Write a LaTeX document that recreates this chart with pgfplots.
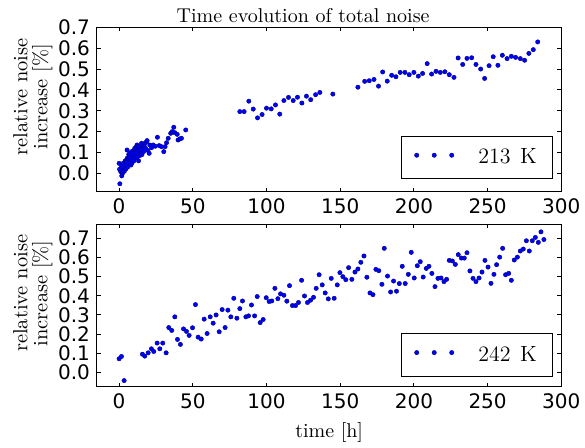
\documentclass[border=0pt]{standalone}
\usepackage{fontspec}
\usepackage{pgfplots}
\usepackage{pgfplotstable}
\pgfplotsset{compat=1.18}
\newfontfamily\tickfont{DejaVu Sans}

\pgfplotstableread{
x y
0.0 0.048
0.5 -0.05
0.3 0.02
1.1 0.008
1.8 -0.012
1.5 0.03
2.0 0.04
2.3 0.0
2.7 0.016
3.0 0.05
3.2 0.032
3.5 0.01
3.9 0.043
4.2 0.06
4.5 0.056
4.6 0.021
5.0 0.056
5.4 0.112
5.4 0.072
5.8 0.03
6.2 0.072
6.5 0.09
6.8 0.048
7.0 0.075
7.2 0.096
7.7 0.064
8.0 0.04
8.4 0.104
8.8 0.05
9.1 0.08
9.5 0.096
9.8 0.07
10.0 0.06
10.3 0.11
10.6 0.12
11.1 0.09
11.5 0.1
11.7 0.128
12.2 0.075
12.2 0.136
12.8 0.13
12.9 0.11
13.2 0.06
13.6 0.125
14.0 0.085
14.0 0.096
14.5 0.1
15.0 0.115
15.2 0.144
15.5 0.09
15.8 0.125
16.3 0.136
16.8 0.105
17.0 0.13
17.5 0.144
18.0 0.12
18.6 0.152
19.0 0.157
19.5 0.11
20.4 0.096
20.8 0.136
22.0 0.123
23.1 0.136
24.5 0.13
26.0 0.173
27.2 0.133
28.7 0.128
30.3 0.104
31.2 0.128
32.2 0.147
33.3 0.168
35.0 0.192
36.0 0.2
37.1 0.221
37.8 0.195
39.4 0.187
40.0 0.16
41.2 0.165
42.3 0.168
45.2 0.208
81.9 0.296
84.8 0.296
88.0 0.346
91.0 0.308
93.9 0.266
97.0 0.282
100.0 0.3125
103.2 0.309
106.1 0.328
109.0 0.284
111.8 0.349
114.9 0.364
118.1 0.349
121.0 0.365
124.0 0.337
127.1 0.37
130.0 0.353
133.3 0.377
136.2 0.388
145.0 0.38
162.0 0.413
166.6 0.441
169.7 0.444
172.9 0.45
176.0 0.418
178.8 0.486
181.9 0.442
184.9 0.47
187.8 0.463
190.7 0.484
193.9 0.484
196.8 0.473
200.0 0.484
203.0 0.466
205.9 0.479
209.0 0.526
212.0 0.476
215.0 0.489
217.9 0.484
221.0 0.487
224.0 0.473
227.2 0.46
230.0 0.553
233.1 0.522
236.0 0.551
239.2 0.554
242.1 0.522
245.3 0.5
248.0 0.455
251.0 0.516
253.8 0.559
257.0 0.518
260.0 0.566
263.2 0.55
266.1 0.561
269.0 0.556
272.2 0.55
275.1 0.542
278.0 0.575
281.0 0.593
284.0 0.63
}\dataA

\pgfplotstableread{
x y
0.0 0.071
1.6 0.083
3.4 -0.043
15.8 0.095
17.4 0.085
19.7 0.102
21.9 0.123
23.5 0.109
25.8 0.153
27.6 0.123
29.6 0.153
31.9 0.102
33.7 0.234
35.7 0.219
37.8 0.29
39.6 0.172
41.6 0.146
43.7 0.227
45.7 0.214
47.5 0.193
49.8 0.233
51.8 0.354
53.6 0.184
55.7 0.174
57.7 0.278
59.7 0.203
61.8 0.29
63.8 0.257
65.8 0.3
67.9 0.212
69.9 0.328
71.9 0.234
73.8 0.325
75.8 0.29
77.8 0.387
79.9 0.283
81.9 0.333
83.7 0.373
86.0 0.29
87.8 0.295
89.8 0.352
91.9 0.295
93.7 0.396
95.7 0.26
97.7 0.276
99.8 0.39
101.8 0.37
103.6 0.373
105.7 0.439
107.7 0.385
109.5 0.41
111.8 0.403
113.8 0.372
115.6 0.453
117.6 0.349
119.7 0.349
121.7 0.365
123.8 0.481
125.8 0.399
127.8 0.365
129.9 0.377
131.9 0.392
133.7 0.439
135.7 0.51
137.8 0.457
139.8 0.415
141.9 0.384
143.9 0.491
145.9 0.387
148.0 0.457
149.8 0.521
151.8 0.5
153.8 0.484
155.7 0.547
157.9 0.486
160.0 0.524
162.0 0.54
164.0 0.575
166.1 0.608
168.1 0.497
170.2 0.415
172.2 0.406
174.2 0.538
176.2 0.531
178.3 0.46
179.9 0.648
182.1 0.503
184.2 0.42
186.2 0.477
188.2 0.424
190.1 0.464
192.1 0.554
194.1 0.464
196.2 0.512
198.2 0.627
200.2 0.493
202.3 0.557
204.3 0.578
206.3 0.498
208.4 0.543
210.2 0.554
212.2 0.517
214.3 0.448
216.3 0.491
218.4 0.493
220.4 0.474
222.2 0.486
224.0 0.585
226.1 0.582
228.1 0.564
230.1 0.615
232.2 0.597
234.2 0.597
236.0 0.625
238.0 0.53
240.1 0.491
242.1 0.474
244.2 0.493
246.2 0.524
248.2 0.585
250.3 0.55
252.3 0.465
254.3 0.512
256.1 0.5625
258.2 0.602
260.2 0.648
262.2 0.51
264.3 0.517
266.1 0.481
268.1 0.587
270.2 0.602
272.2 0.634
274.2 0.644
276.3 0.6875
278.3 0.634
280.3 0.6875
282.4 0.705
284.4 0.679
286.2 0.734
288.2 0.694
}\dataB

\pgfplotsset{
  myaxis/.style={
    scale only axis, width=232.15pt,
    xmin=-15, xmax=300,
    xtick={0,50,100,150,200,250,300},
    ytick={0,0.1,0.2,0.3,0.4,0.5,0.6,0.7},
    tick align=inside, major tick length=2pt,
    every tick/.style={black, line width=0.5pt},
    axis line style={line width=0.5pt},
    ticklabel style={font=\tickfont\fontsize{10}{11}\selectfont},
    /pgf/number format/assume math mode=true,
    yticklabel style={/pgf/number format/fixed, /pgf/number format/fixed zerofill, /pgf/number format/precision=1},
    ylabel={relative noise\\increase [\%]},
    ylabel style={align=center, font=\fontsize{10.2}{10}\selectfont},
    legend image code/.code={%
      \path (-1.5pt,0pt) (28.6pt,0pt);
      \draw[mark repeat=1,mark phase=1,##1] plot coordinates {(0pt,1.2pt) (8.75pt,1.2pt) (17.5pt,1.2pt)};},
    legend style={anchor=south east, draw=black, line width=0.5pt,
      inner xsep=6pt, inner ysep=4.1pt,
      font=\fontsize{11}{13}\selectfont},
  },
  mymark/.style={only marks, mark=*, mark size=1.1pt,
    mark options={fill=blue, draw=blue!50!black, line width=0.2pt}},
}

\begin{document}
\begin{tikzpicture}[x=1pt,y=1pt]
\path[use as bounding box] (0,0) rectangle (292.5,-223.5);
\begin{axis}[myaxis,
  at={(48.5pt,-95.85pt)}, anchor=south west,
  height=82.2pt,
  ymin=-0.088, ymax=0.7,
  ylabel style={at={(ticklabel cs:0.578,-4pt)}},
  title={Time evolution of total noise},
  title style={at={(0.444,1)}, anchor=base, yshift=-3.8pt, font=\fontsize{10}{12}\selectfont},
  legend style={at={(0.983,0.0754)}},
]
\addplot[mymark] table[x=x,y=y] {\dataA};
\addlegendentry{213\hspace{4.7pt}K}
\end{axis}
\begin{axis}[myaxis,
  at={(48.5pt,-193.35pt)}, anchor=south west,
  height=81.35pt,
  ymin=-0.075, ymax=0.775,
  ylabel style={at={(ticklabel cs:0.574,-4pt)}},
  xlabel={time [h]},
  xlabel style={font=\fontsize{10}{12}\selectfont},
  legend style={at={(0.983,0.0615)}},
]
\addplot[mymark] table[x=x,y=y] {\dataB};
\addlegendentry{242\hspace{4.7pt}K}
\end{axis}
\end{tikzpicture}
\end{document}
